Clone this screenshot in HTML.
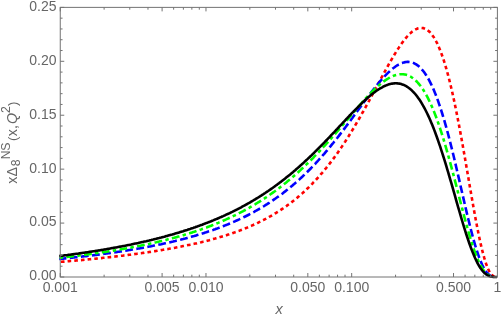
<!DOCTYPE html>
<html><head><meta charset="utf-8"><title>plot</title>
<style>html,body{margin:0;padding:0;background:#fff;overflow:hidden}body{width:501px;height:318px;position:relative;font-family:"Liberation Sans",sans-serif}</style></head>
<body>
<svg width="501" height="318" viewBox="0 0 501 318" style="display:block;position:absolute;left:0;top:0;will-change:transform">
<rect width="501" height="318" fill="#fff"/>
<g fill="none" stroke-width="2.6" stroke-linejoin="round">
<path d="M59.2 261.9 L61.2 261.8 L62.2 261.7 L63.2 261.6 L64.2 261.6 L65.2 261.5 L66.2 261.4 L67.2 261.3 L68.2 261.2 L69.2 261.1 L70.2 261.0 L71.2 261.0 L72.2 260.9 L73.2 260.8 L74.2 260.7 L75.2 260.6 L76.2 260.5 L77.2 260.4 L78.2 260.3 L79.2 260.2 L80.2 260.1 L81.2 260.1 L82.2 260.0 L83.2 259.9 L84.2 259.8 L85.2 259.7 L86.2 259.6 L87.2 259.5 L88.2 259.4 L89.2 259.3 L90.2 259.2 L91.2 259.1 L92.2 259.0 L93.2 258.9 L94.2 258.8 L95.2 258.7 L96.2 258.6 L97.2 258.5 L98.2 258.4 L99.2 258.3 L100.2 258.2 L101.2 258.1 L102.2 258.0 L103.2 257.8 L104.2 257.7 L105.2 257.6 L106.2 257.5 L107.2 257.4 L108.2 257.3 L109.2 257.2 L110.2 257.1 L111.2 257.0 L112.2 256.9 L113.2 256.7 L114.2 256.6 L115.2 256.5 L116.2 256.4 L117.2 256.3 L118.2 256.2 L119.2 256.0 L120.2 255.9 L121.2 255.8 L122.2 255.7 L123.2 255.6 L124.2 255.4 L125.2 255.3 L126.2 255.2 L127.2 255.1 L128.2 254.9 L129.2 254.8 L130.2 254.7 L131.2 254.5 L132.2 254.4 L133.2 254.3 L134.2 254.1 L135.2 254.0 L136.2 253.9 L137.2 253.7 L138.2 253.6 L139.2 253.5 L140.2 253.3 L141.2 253.2 L142.2 253.0 L143.2 252.9 L144.2 252.8 L145.2 252.6 L146.2 252.5 L147.2 252.3 L148.2 252.2 L149.2 252.0 L150.2 251.9 L151.2 251.7 L152.2 251.6 L153.2 251.4 L154.2 251.3 L155.2 251.1 L156.2 251.0 L157.2 250.8 L158.2 250.6 L159.2 250.5 L160.2 250.3 L161.2 250.1 L162.2 250.0 L163.2 249.8 L164.2 249.6 L165.2 249.5 L166.2 249.3 L167.2 249.1 L168.2 249.0 L169.2 248.8 L170.2 248.6 L171.2 248.4 L172.2 248.2 L173.2 248.1 L174.2 247.9 L175.2 247.7 L176.2 247.5 L177.2 247.3 L178.2 247.1 L179.2 246.9 L180.2 246.7 L181.2 246.5 L182.2 246.3 L183.2 246.1 L184.2 245.9 L185.2 245.7 L186.2 245.5 L187.2 245.3 L188.2 245.1 L189.2 244.9 L190.2 244.7 L191.2 244.5 L192.2 244.3 L193.2 244.0 L194.2 243.8 L195.2 243.6 L196.2 243.4 L197.2 243.1 L198.2 242.9 L199.2 242.7 L200.2 242.4 L201.2 242.2 L202.2 241.9 L203.2 241.7 L204.2 241.5 L205.2 241.2 L206.2 241.0 L207.2 240.7 L208.2 240.4 L209.2 240.2 L210.2 239.9 L211.2 239.6 L212.2 239.4 L213.2 239.1 L214.2 238.8 L215.2 238.6 L216.2 238.3 L217.2 238.0 L218.2 237.7 L219.2 237.4 L220.2 237.1 L221.2 236.8 L222.2 236.5 L223.2 236.2 L224.2 235.9 L225.2 235.6 L226.2 235.3 L227.2 234.9 L228.2 234.6 L229.2 234.3 L230.2 233.9 L231.2 233.6 L232.2 233.3 L233.2 232.9 L234.2 232.6 L235.2 232.2 L236.2 231.9 L237.2 231.5 L238.2 231.1 L239.2 230.8 L240.2 230.4 L241.2 230.0 L242.2 229.6 L243.2 229.2 L244.2 228.8 L245.2 228.4 L246.2 228.0 L247.2 227.6 L248.2 227.2 L249.2 226.7 L250.2 226.3 L251.2 225.9 L252.2 225.4 L253.2 225.0 L254.2 224.5 L255.2 224.1 L256.2 223.6 L257.2 223.1 L258.2 222.7 L259.2 222.2 L260.2 221.7 L261.2 221.2 L262.2 220.7 L263.2 220.2 L264.2 219.6 L265.2 219.1 L266.2 218.6 L267.2 218.0 L268.2 217.5 L269.2 216.9 L270.2 216.4 L271.2 215.8 L272.2 215.2 L273.2 214.6 L274.2 214.0 L275.2 213.4 L276.2 212.8 L277.2 212.2 L278.2 211.6 L279.2 210.9 L280.2 210.3 L281.2 209.6 L282.2 208.9 L283.2 208.3 L284.2 207.6 L285.2 206.9 L286.2 206.2 L287.2 205.4 L288.2 204.7 L289.2 204.0 L290.2 203.2 L291.2 202.5 L292.2 201.7 L293.2 200.9 L294.2 200.1 L295.2 199.3 L296.2 198.5 L297.2 197.7 L298.2 196.8 L299.2 196.0 L300.2 195.1 L301.2 194.2 L302.2 193.4 L303.2 192.5 L304.2 191.5 L305.2 190.6 L306.2 189.7 L307.2 188.7 L308.2 187.8 L309.2 186.8 L310.2 185.8 L311.2 184.8 L312.2 183.8 L313.2 182.7 L314.2 181.7 L315.2 180.6 L316.2 179.5 L317.2 178.5 L318.2 177.3 L319.2 176.2 L320.2 175.1 L321.2 173.9 L322.2 172.8 L323.2 171.6 L324.2 170.4 L325.2 169.2 L326.2 168.0 L327.2 166.7 L328.2 165.5 L329.2 164.2 L330.2 162.9 L331.2 161.6 L332.2 160.3 L333.2 158.9 L334.2 157.6 L335.2 156.2 L336.2 154.8 L337.2 153.4 L338.2 152.0 L339.2 150.5 L340.2 149.1 L341.2 147.6 L342.2 146.1 L343.2 144.6 L344.2 143.1 L345.2 141.6 L346.2 140.0 L347.2 138.5 L348.2 136.9 L349.2 135.3 L350.2 133.7 L351.2 132.1 L352.2 130.4 L353.2 128.8 L354.2 127.1 L355.2 125.4 L356.2 123.7 L357.2 122.0 L358.2 120.3 L359.2 118.5 L360.2 116.8 L361.2 115.0 L362.2 113.2 L363.2 111.5 L364.2 109.7 L365.2 107.9 L366.2 106.0 L367.2 104.2 L368.2 102.4 L369.2 100.6 L370.2 98.7 L371.2 96.9 L372.2 95.0 L373.2 93.1 L374.2 91.3 L375.2 89.4 L376.2 87.5 L377.2 85.7 L378.2 83.8 L379.2 81.9 L380.2 80.1 L381.2 78.2 L382.2 76.4 L383.2 74.5 L384.2 72.7 L385.2 70.8 L386.2 69.0 L387.2 67.2 L388.2 65.4 L389.2 63.6 L390.2 61.9 L391.2 60.1 L392.2 58.4 L393.2 56.7 L394.2 55.0 L395.2 53.4 L396.2 51.7 L397.2 50.1 L398.2 48.6 L399.2 47.1 L400.2 45.6 L401.2 44.1 L402.2 42.7 L403.2 41.4 L404.2 40.1 L405.2 38.8 L406.2 37.6 L407.2 36.5 L408.2 35.4 L409.2 34.3 L410.2 33.4 L411.2 32.5 L412.2 31.6 L413.2 30.9 L414.2 30.2 L415.2 29.6 L416.2 29.1 L417.2 28.7 L418.2 28.3 L419.2 28.1 L420.2 28.0 L421.2 27.9 L422.2 28.0 L423.2 28.1 L424.2 28.4 L425.2 28.8 L426.2 29.3 L427.2 29.9 L428.2 30.7 L429.2 31.5 L430.2 32.5 L431.2 33.7 L432.2 35.0 L433.2 36.4 L434.2 37.9 L435.2 39.6 L436.2 41.5 L437.2 43.4 L438.2 45.6 L439.2 47.9 L440.2 50.3 L441.2 52.9 L442.2 55.7 L443.2 58.6 L444.2 61.7 L445.2 64.9 L446.2 68.3 L447.2 71.9 L448.2 75.6 L449.2 79.5 L450.2 83.5 L451.2 87.7 L452.2 92.0 L453.2 96.5 L454.2 101.1 L455.2 105.9 L456.2 110.8 L457.2 115.8 L458.2 120.9 L459.2 126.2 L460.2 131.5 L461.2 137.0 L462.2 142.5 L463.2 148.1 L464.2 153.8 L465.2 159.5 L466.2 165.3 L467.2 171.1 L468.2 176.9 L469.2 182.8 L470.2 188.6 L471.2 194.3 L472.2 200.0 L473.2 205.7 L474.2 211.3 L475.2 216.7 L476.2 222.0 L477.2 227.2 L478.2 232.2 L479.2 237.1 L480.2 241.7 L481.2 246.1 L482.2 250.2 L483.2 254.1 L484.2 257.7 L485.2 261.0 L486.2 264.0 L487.2 266.7 L488.2 269.1 L489.2 271.1 L490.2 272.8 L491.2 274.2 L492.2 275.3 L493.2 276.0 L494.2 276.4 L494.9 276.4" stroke="#ff0000" stroke-dasharray="3.6 3.1" stroke-dashoffset="4.97"/>
<path d="M59.2 258.9 L61.2 258.8 L62.2 258.7 L63.2 258.6 L64.2 258.5 L65.2 258.4 L66.2 258.3 L67.2 258.2 L68.2 258.1 L69.2 258.0 L70.2 257.9 L71.2 257.8 L72.2 257.7 L73.2 257.5 L74.2 257.4 L75.2 257.3 L76.2 257.2 L77.2 257.1 L78.2 257.0 L79.2 256.9 L80.2 256.8 L81.2 256.7 L82.2 256.5 L83.2 256.4 L84.2 256.3 L85.2 256.2 L86.2 256.1 L87.2 256.0 L88.2 255.8 L89.2 255.7 L90.2 255.6 L91.2 255.5 L92.2 255.4 L93.2 255.2 L94.2 255.1 L95.2 255.0 L96.2 254.9 L97.2 254.7 L98.2 254.6 L99.2 254.5 L100.2 254.3 L101.2 254.2 L102.2 254.1 L103.2 253.9 L104.2 253.8 L105.2 253.7 L106.2 253.5 L107.2 253.4 L108.2 253.3 L109.2 253.1 L110.2 253.0 L111.2 252.8 L112.2 252.7 L113.2 252.6 L114.2 252.4 L115.2 252.3 L116.2 252.1 L117.2 252.0 L118.2 251.8 L119.2 251.7 L120.2 251.5 L121.2 251.4 L122.2 251.2 L123.2 251.1 L124.2 250.9 L125.2 250.7 L126.2 250.6 L127.2 250.4 L128.2 250.3 L129.2 250.1 L130.2 249.9 L131.2 249.8 L132.2 249.6 L133.2 249.4 L134.2 249.3 L135.2 249.1 L136.2 248.9 L137.2 248.8 L138.2 248.6 L139.2 248.4 L140.2 248.2 L141.2 248.1 L142.2 247.9 L143.2 247.7 L144.2 247.5 L145.2 247.3 L146.2 247.1 L147.2 247.0 L148.2 246.8 L149.2 246.6 L150.2 246.4 L151.2 246.2 L152.2 246.0 L153.2 245.8 L154.2 245.6 L155.2 245.4 L156.2 245.2 L157.2 245.0 L158.2 244.8 L159.2 244.6 L160.2 244.4 L161.2 244.2 L162.2 243.9 L163.2 243.7 L164.2 243.5 L165.2 243.3 L166.2 243.1 L167.2 242.8 L168.2 242.6 L169.2 242.4 L170.2 242.2 L171.2 241.9 L172.2 241.7 L173.2 241.5 L174.2 241.2 L175.2 241.0 L176.2 240.7 L177.2 240.5 L178.2 240.3 L179.2 240.0 L180.2 239.7 L181.2 239.5 L182.2 239.2 L183.2 239.0 L184.2 238.7 L185.2 238.5 L186.2 238.2 L187.2 237.9 L188.2 237.6 L189.2 237.4 L190.2 237.1 L191.2 236.8 L192.2 236.5 L193.2 236.2 L194.2 236.0 L195.2 235.7 L196.2 235.4 L197.2 235.1 L198.2 234.8 L199.2 234.5 L200.2 234.2 L201.2 233.9 L202.2 233.6 L203.2 233.2 L204.2 232.9 L205.2 232.6 L206.2 232.3 L207.2 231.9 L208.2 231.6 L209.2 231.3 L210.2 230.9 L211.2 230.6 L212.2 230.2 L213.2 229.9 L214.2 229.5 L215.2 229.2 L216.2 228.8 L217.2 228.5 L218.2 228.1 L219.2 227.7 L220.2 227.3 L221.2 227.0 L222.2 226.6 L223.2 226.2 L224.2 225.8 L225.2 225.4 L226.2 225.0 L227.2 224.6 L228.2 224.2 L229.2 223.8 L230.2 223.4 L231.2 222.9 L232.2 222.5 L233.2 222.1 L234.2 221.6 L235.2 221.2 L236.2 220.7 L237.2 220.3 L238.2 219.8 L239.2 219.4 L240.2 218.9 L241.2 218.4 L242.2 218.0 L243.2 217.5 L244.2 217.0 L245.2 216.5 L246.2 216.0 L247.2 215.5 L248.2 215.0 L249.2 214.5 L250.2 213.9 L251.2 213.4 L252.2 212.9 L253.2 212.3 L254.2 211.8 L255.2 211.2 L256.2 210.7 L257.2 210.1 L258.2 209.5 L259.2 209.0 L260.2 208.4 L261.2 207.8 L262.2 207.2 L263.2 206.6 L264.2 206.0 L265.2 205.3 L266.2 204.7 L267.2 204.1 L268.2 203.4 L269.2 202.8 L270.2 202.1 L271.2 201.5 L272.2 200.8 L273.2 200.1 L274.2 199.4 L275.2 198.7 L276.2 198.0 L277.2 197.3 L278.2 196.6 L279.2 195.9 L280.2 195.2 L281.2 194.4 L282.2 193.7 L283.2 192.9 L284.2 192.1 L285.2 191.4 L286.2 190.6 L287.2 189.8 L288.2 189.0 L289.2 188.2 L290.2 187.3 L291.2 186.5 L292.2 185.7 L293.2 184.8 L294.2 184.0 L295.2 183.1 L296.2 182.2 L297.2 181.4 L298.2 180.5 L299.2 179.6 L300.2 178.6 L301.2 177.7 L302.2 176.8 L303.2 175.8 L304.2 174.9 L305.2 173.9 L306.2 173.0 L307.2 172.0 L308.2 171.0 L309.2 170.0 L310.2 169.0 L311.2 168.0 L312.2 166.9 L313.2 165.9 L314.2 164.8 L315.2 163.8 L316.2 162.7 L317.2 161.6 L318.2 160.5 L319.2 159.4 L320.2 158.3 L321.2 157.2 L322.2 156.1 L323.2 154.9 L324.2 153.8 L325.2 152.6 L326.2 151.4 L327.2 150.3 L328.2 149.1 L329.2 147.9 L330.2 146.7 L331.2 145.4 L332.2 144.2 L333.2 143.0 L334.2 141.7 L335.2 140.5 L336.2 139.2 L337.2 138.0 L338.2 136.7 L339.2 135.4 L340.2 134.1 L341.2 132.8 L342.2 131.5 L343.2 130.2 L344.2 128.9 L345.2 127.6 L346.2 126.2 L347.2 124.9 L348.2 123.6 L349.2 122.2 L350.2 120.9 L351.2 119.5 L352.2 118.2 L353.2 116.8 L354.2 115.4 L355.2 114.1 L356.2 112.7 L357.2 111.3 L358.2 110.0 L359.2 108.6 L360.2 107.2 L361.2 105.9 L362.2 104.5 L363.2 103.1 L364.2 101.8 L365.2 100.4 L366.2 99.1 L367.2 97.7 L368.2 96.4 L369.2 95.1 L370.2 93.8 L371.2 92.4 L372.2 91.1 L373.2 89.9 L374.2 88.6 L375.2 87.3 L376.2 86.1 L377.2 84.8 L378.2 83.6 L379.2 82.4 L380.2 81.2 L381.2 80.1 L382.2 78.9 L383.2 77.8 L384.2 76.7 L385.2 75.7 L386.2 74.6 L387.2 73.6 L388.2 72.6 L389.2 71.7 L390.2 70.8 L391.2 69.9 L392.2 69.0 L393.2 68.2 L394.2 67.5 L395.2 66.7 L396.2 66.0 L397.2 65.4 L398.2 64.8 L399.2 64.3 L400.2 63.8 L401.2 63.3 L402.2 63.0 L403.2 62.6 L404.2 62.4 L405.2 62.1 L406.2 62.0 L407.2 61.9 L408.2 61.9 L409.2 62.0 L410.2 62.1 L411.2 62.3 L412.2 62.5 L413.2 62.9 L414.2 63.3 L415.2 63.8 L416.2 64.4 L417.2 65.1 L418.2 65.8 L419.2 66.7 L420.2 67.6 L421.2 68.6 L422.2 69.8 L423.2 71.0 L424.2 72.3 L425.2 73.7 L426.2 75.2 L427.2 76.8 L428.2 78.5 L429.2 80.3 L430.2 82.3 L431.2 84.3 L432.2 86.4 L433.2 88.6 L434.2 91.0 L435.2 93.4 L436.2 96.0 L437.2 98.6 L438.2 101.4 L439.2 104.3 L440.2 107.2 L441.2 110.3 L442.2 113.5 L443.2 116.8 L444.2 120.1 L445.2 123.6 L446.2 127.2 L447.2 130.8 L448.2 134.5 L449.2 138.3 L450.2 142.2 L451.2 146.2 L452.2 150.2 L453.2 154.3 L454.2 158.5 L455.2 162.7 L456.2 167.0 L457.2 171.3 L458.2 175.6 L459.2 179.9 L460.2 184.3 L461.2 188.7 L462.2 193.1 L463.2 197.4 L464.2 201.8 L465.2 206.1 L466.2 210.4 L467.2 214.6 L468.2 218.8 L469.2 222.8 L470.2 226.9 L471.2 230.8 L472.2 234.6 L473.2 238.3 L474.2 241.9 L475.2 245.3 L476.2 248.6 L477.2 251.7 L478.2 254.7 L479.2 257.5 L480.2 260.1 L481.2 262.5 L482.2 264.8 L483.2 266.8 L484.2 268.7 L485.2 270.3 L486.2 271.7 L487.2 273.0 L488.2 274.0 L489.2 274.9 L490.2 275.6 L491.2 276.1 L492.2 276.4 L492.9 276.4" stroke="#0000ff" stroke-dasharray="7.8 3.4" stroke-dashoffset="0.57"/>
<path d="M59.2 257.7 L61.2 257.6 L62.2 257.5 L63.2 257.3 L64.2 257.2 L65.2 257.1 L66.2 257.0 L67.2 256.9 L68.2 256.8 L69.2 256.7 L70.2 256.5 L71.2 256.4 L72.2 256.3 L73.2 256.2 L74.2 256.1 L75.2 256.0 L76.2 255.8 L77.2 255.7 L78.2 255.6 L79.2 255.5 L80.2 255.3 L81.2 255.2 L82.2 255.1 L83.2 255.0 L84.2 254.8 L85.2 254.7 L86.2 254.6 L87.2 254.4 L88.2 254.3 L89.2 254.2 L90.2 254.0 L91.2 253.9 L92.2 253.8 L93.2 253.6 L94.2 253.5 L95.2 253.3 L96.2 253.2 L97.2 253.1 L98.2 252.9 L99.2 252.8 L100.2 252.6 L101.2 252.5 L102.2 252.3 L103.2 252.2 L104.2 252.0 L105.2 251.9 L106.2 251.7 L107.2 251.6 L108.2 251.4 L109.2 251.3 L110.2 251.1 L111.2 251.0 L112.2 250.8 L113.2 250.6 L114.2 250.5 L115.2 250.3 L116.2 250.1 L117.2 250.0 L118.2 249.8 L119.2 249.6 L120.2 249.5 L121.2 249.3 L122.2 249.1 L123.2 248.9 L124.2 248.8 L125.2 248.6 L126.2 248.4 L127.2 248.2 L128.2 248.1 L129.2 247.9 L130.2 247.7 L131.2 247.5 L132.2 247.3 L133.2 247.1 L134.2 246.9 L135.2 246.7 L136.2 246.5 L137.2 246.3 L138.2 246.1 L139.2 245.9 L140.2 245.7 L141.2 245.5 L142.2 245.3 L143.2 245.1 L144.2 244.9 L145.2 244.7 L146.2 244.5 L147.2 244.3 L148.2 244.1 L149.2 243.9 L150.2 243.6 L151.2 243.4 L152.2 243.2 L153.2 243.0 L154.2 242.7 L155.2 242.5 L156.2 242.3 L157.2 242.0 L158.2 241.8 L159.2 241.6 L160.2 241.3 L161.2 241.1 L162.2 240.9 L163.2 240.6 L164.2 240.4 L165.2 240.1 L166.2 239.9 L167.2 239.6 L168.2 239.3 L169.2 239.1 L170.2 238.8 L171.2 238.6 L172.2 238.3 L173.2 238.0 L174.2 237.8 L175.2 237.5 L176.2 237.2 L177.2 236.9 L178.2 236.6 L179.2 236.4 L180.2 236.1 L181.2 235.8 L182.2 235.5 L183.2 235.2 L184.2 234.9 L185.2 234.6 L186.2 234.3 L187.2 234.0 L188.2 233.7 L189.2 233.4 L190.2 233.0 L191.2 232.7 L192.2 232.4 L193.2 232.1 L194.2 231.8 L195.2 231.4 L196.2 231.1 L197.2 230.7 L198.2 230.4 L199.2 230.1 L200.2 229.7 L201.2 229.4 L202.2 229.0 L203.2 228.7 L204.2 228.3 L205.2 227.9 L206.2 227.6 L207.2 227.2 L208.2 226.8 L209.2 226.4 L210.2 226.1 L211.2 225.7 L212.2 225.3 L213.2 224.9 L214.2 224.5 L215.2 224.1 L216.2 223.7 L217.2 223.3 L218.2 222.9 L219.2 222.4 L220.2 222.0 L221.2 221.6 L222.2 221.2 L223.2 220.7 L224.2 220.3 L225.2 219.8 L226.2 219.4 L227.2 218.9 L228.2 218.5 L229.2 218.0 L230.2 217.6 L231.2 217.1 L232.2 216.6 L233.2 216.1 L234.2 215.6 L235.2 215.2 L236.2 214.7 L237.2 214.2 L238.2 213.7 L239.2 213.1 L240.2 212.6 L241.2 212.1 L242.2 211.6 L243.2 211.1 L244.2 210.5 L245.2 210.0 L246.2 209.4 L247.2 208.9 L248.2 208.3 L249.2 207.8 L250.2 207.2 L251.2 206.6 L252.2 206.0 L253.2 205.4 L254.2 204.9 L255.2 204.3 L256.2 203.6 L257.2 203.0 L258.2 202.4 L259.2 201.8 L260.2 201.2 L261.2 200.5 L262.2 199.9 L263.2 199.2 L264.2 198.6 L265.2 197.9 L266.2 197.3 L267.2 196.6 L268.2 195.9 L269.2 195.2 L270.2 194.5 L271.2 193.8 L272.2 193.1 L273.2 192.4 L274.2 191.7 L275.2 191.0 L276.2 190.2 L277.2 189.5 L278.2 188.7 L279.2 188.0 L280.2 187.2 L281.2 186.4 L282.2 185.7 L283.2 184.9 L284.2 184.1 L285.2 183.3 L286.2 182.5 L287.2 181.6 L288.2 180.8 L289.2 180.0 L290.2 179.2 L291.2 178.3 L292.2 177.5 L293.2 176.6 L294.2 175.7 L295.2 174.9 L296.2 174.0 L297.2 173.1 L298.2 172.2 L299.2 171.3 L300.2 170.4 L301.2 169.4 L302.2 168.5 L303.2 167.6 L304.2 166.6 L305.2 165.7 L306.2 164.7 L307.2 163.7 L308.2 162.8 L309.2 161.8 L310.2 160.8 L311.2 159.8 L312.2 158.8 L313.2 157.8 L314.2 156.7 L315.2 155.7 L316.2 154.7 L317.2 153.6 L318.2 152.6 L319.2 151.5 L320.2 150.5 L321.2 149.4 L322.2 148.3 L323.2 147.2 L324.2 146.2 L325.2 145.1 L326.2 144.0 L327.2 142.9 L328.2 141.7 L329.2 140.6 L330.2 139.5 L331.2 138.4 L332.2 137.2 L333.2 136.1 L334.2 135.0 L335.2 133.8 L336.2 132.7 L337.2 131.5 L338.2 130.3 L339.2 129.2 L340.2 128.0 L341.2 126.8 L342.2 125.7 L343.2 124.5 L344.2 123.3 L345.2 122.1 L346.2 121.0 L347.2 119.8 L348.2 118.6 L349.2 117.4 L350.2 116.3 L351.2 115.1 L352.2 113.9 L353.2 112.7 L354.2 111.6 L355.2 110.4 L356.2 109.2 L357.2 108.1 L358.2 106.9 L359.2 105.8 L360.2 104.6 L361.2 103.5 L362.2 102.4 L363.2 101.2 L364.2 100.1 L365.2 99.0 L366.2 97.9 L367.2 96.9 L368.2 95.8 L369.2 94.7 L370.2 93.7 L371.2 92.7 L372.2 91.7 L373.2 90.7 L374.2 89.7 L375.2 88.7 L376.2 87.8 L377.2 86.9 L378.2 86.0 L379.2 85.1 L380.2 84.3 L381.2 83.4 L382.2 82.6 L383.2 81.9 L384.2 81.1 L385.2 80.4 L386.2 79.7 L387.2 79.1 L388.2 78.5 L389.2 77.9 L390.2 77.3 L391.2 76.8 L392.2 76.4 L393.2 75.9 L394.2 75.6 L395.2 75.2 L396.2 74.9 L397.2 74.7 L398.2 74.5 L399.2 74.3 L400.2 74.2 L401.2 74.2 L402.2 74.2 L403.2 74.3 L404.2 74.4 L405.2 74.6 L406.2 74.8 L407.2 75.1 L408.2 75.5 L409.2 75.9 L410.2 76.4 L411.2 77.0 L412.2 77.7 L413.2 78.4 L414.2 79.2 L415.2 80.0 L416.2 81.0 L417.2 82.0 L418.2 83.1 L419.2 84.3 L420.2 85.5 L421.2 86.9 L422.2 88.3 L423.2 89.8 L424.2 91.4 L425.2 93.1 L426.2 94.8 L427.2 96.7 L428.2 98.6 L429.2 100.7 L430.2 102.8 L431.2 105.0 L432.2 107.3 L433.2 109.7 L434.2 112.1 L435.2 114.7 L436.2 117.3 L437.2 120.1 L438.2 122.9 L439.2 125.8 L440.2 128.8 L441.2 131.9 L442.2 135.0 L443.2 138.2 L444.2 141.5 L445.2 144.9 L446.2 148.3 L447.2 151.8 L448.2 155.3 L449.2 159.0 L450.2 162.6 L451.2 166.3 L452.2 170.1 L453.2 173.9 L454.2 177.7 L455.2 181.6 L456.2 185.4 L457.2 189.3 L458.2 193.2 L459.2 197.1 L460.2 201.0 L461.2 204.9 L462.2 208.7 L463.2 212.5 L464.2 216.3 L465.2 220.0 L466.2 223.7 L467.2 227.3 L468.2 230.9 L469.2 234.3 L470.2 237.7 L471.2 241.0 L472.2 244.1 L473.2 247.2 L474.2 250.1 L475.2 252.9 L476.2 255.5 L477.2 258.1 L478.2 260.4 L479.2 262.6 L480.2 264.6 L481.2 266.5 L482.2 268.2 L483.2 269.8 L484.2 271.1 L485.2 272.3 L486.2 273.4 L487.2 274.3 L488.2 275.0 L489.2 275.6 L490.2 276.1 L491.2 276.4 L492.2 276.4 L492.4 276.4" stroke="#00ff00" stroke-dasharray="7.8 3.3 3.5 3.3" stroke-dashoffset="10.72"/>
<path d="M59.2 256.0 L61.2 255.8 L62.2 255.7 L63.2 255.6 L64.2 255.4 L65.2 255.3 L66.2 255.2 L67.2 255.1 L68.2 254.9 L69.2 254.8 L70.2 254.7 L71.2 254.5 L72.2 254.4 L73.2 254.3 L74.2 254.1 L75.2 254.0 L76.2 253.8 L77.2 253.7 L78.2 253.6 L79.2 253.4 L80.2 253.3 L81.2 253.1 L82.2 253.0 L83.2 252.8 L84.2 252.7 L85.2 252.5 L86.2 252.4 L87.2 252.2 L88.2 252.1 L89.2 251.9 L90.2 251.8 L91.2 251.6 L92.2 251.5 L93.2 251.3 L94.2 251.2 L95.2 251.0 L96.2 250.8 L97.2 250.7 L98.2 250.5 L99.2 250.4 L100.2 250.2 L101.2 250.0 L102.2 249.9 L103.2 249.7 L104.2 249.5 L105.2 249.4 L106.2 249.2 L107.2 249.0 L108.2 248.8 L109.2 248.7 L110.2 248.5 L111.2 248.3 L112.2 248.1 L113.2 247.9 L114.2 247.8 L115.2 247.6 L116.2 247.4 L117.2 247.2 L118.2 247.0 L119.2 246.8 L120.2 246.6 L121.2 246.5 L122.2 246.3 L123.2 246.1 L124.2 245.9 L125.2 245.7 L126.2 245.5 L127.2 245.3 L128.2 245.1 L129.2 244.9 L130.2 244.7 L131.2 244.5 L132.2 244.2 L133.2 244.0 L134.2 243.8 L135.2 243.6 L136.2 243.4 L137.2 243.2 L138.2 243.0 L139.2 242.7 L140.2 242.5 L141.2 242.3 L142.2 242.1 L143.2 241.9 L144.2 241.6 L145.2 241.4 L146.2 241.2 L147.2 240.9 L148.2 240.7 L149.2 240.5 L150.2 240.2 L151.2 240.0 L152.2 239.7 L153.2 239.5 L154.2 239.2 L155.2 239.0 L156.2 238.8 L157.2 238.5 L158.2 238.2 L159.2 238.0 L160.2 237.7 L161.2 237.5 L162.2 237.2 L163.2 236.9 L164.2 236.7 L165.2 236.4 L166.2 236.1 L167.2 235.9 L168.2 235.6 L169.2 235.3 L170.2 235.0 L171.2 234.7 L172.2 234.5 L173.2 234.2 L174.2 233.9 L175.2 233.6 L176.2 233.3 L177.2 233.0 L178.2 232.7 L179.2 232.4 L180.2 232.1 L181.2 231.8 L182.2 231.5 L183.2 231.2 L184.2 230.8 L185.2 230.5 L186.2 230.2 L187.2 229.9 L188.2 229.5 L189.2 229.2 L190.2 228.9 L191.2 228.5 L192.2 228.2 L193.2 227.9 L194.2 227.5 L195.2 227.2 L196.2 226.8 L197.2 226.5 L198.2 226.1 L199.2 225.8 L200.2 225.4 L201.2 225.0 L202.2 224.7 L203.2 224.3 L204.2 223.9 L205.2 223.5 L206.2 223.1 L207.2 222.8 L208.2 222.4 L209.2 222.0 L210.2 221.6 L211.2 221.2 L212.2 220.8 L213.2 220.4 L214.2 219.9 L215.2 219.5 L216.2 219.1 L217.2 218.7 L218.2 218.3 L219.2 217.8 L220.2 217.4 L221.2 217.0 L222.2 216.5 L223.2 216.1 L224.2 215.6 L225.2 215.2 L226.2 214.7 L227.2 214.2 L228.2 213.8 L229.2 213.3 L230.2 212.8 L231.2 212.3 L232.2 211.9 L233.2 211.4 L234.2 210.9 L235.2 210.4 L236.2 209.9 L237.2 209.4 L238.2 208.8 L239.2 208.3 L240.2 207.8 L241.2 207.3 L242.2 206.7 L243.2 206.2 L244.2 205.7 L245.2 205.1 L246.2 204.5 L247.2 204.0 L248.2 203.4 L249.2 202.9 L250.2 202.3 L251.2 201.7 L252.2 201.1 L253.2 200.5 L254.2 199.9 L255.2 199.3 L256.2 198.7 L257.2 198.1 L258.2 197.5 L259.2 196.9 L260.2 196.2 L261.2 195.6 L262.2 194.9 L263.2 194.3 L264.2 193.6 L265.2 193.0 L266.2 192.3 L267.2 191.6 L268.2 191.0 L269.2 190.3 L270.2 189.6 L271.2 188.9 L272.2 188.2 L273.2 187.5 L274.2 186.8 L275.2 186.0 L276.2 185.3 L277.2 184.6 L278.2 183.8 L279.2 183.1 L280.2 182.3 L281.2 181.6 L282.2 180.8 L283.2 180.0 L284.2 179.2 L285.2 178.4 L286.2 177.6 L287.2 176.8 L288.2 176.0 L289.2 175.2 L290.2 174.4 L291.2 173.6 L292.2 172.7 L293.2 171.9 L294.2 171.0 L295.2 170.2 L296.2 169.3 L297.2 168.4 L298.2 167.6 L299.2 166.7 L300.2 165.8 L301.2 164.9 L302.2 164.0 L303.2 163.1 L304.2 162.2 L305.2 161.2 L306.2 160.3 L307.2 159.4 L308.2 158.4 L309.2 157.5 L310.2 156.5 L311.2 155.6 L312.2 154.6 L313.2 153.6 L314.2 152.7 L315.2 151.7 L316.2 150.7 L317.2 149.7 L318.2 148.7 L319.2 147.7 L320.2 146.7 L321.2 145.6 L322.2 144.6 L323.2 143.6 L324.2 142.6 L325.2 141.5 L326.2 140.5 L327.2 139.5 L328.2 138.4 L329.2 137.4 L330.2 136.3 L331.2 135.2 L332.2 134.2 L333.2 133.1 L334.2 132.1 L335.2 131.0 L336.2 129.9 L337.2 128.9 L338.2 127.8 L339.2 126.7 L340.2 125.6 L341.2 124.6 L342.2 123.5 L343.2 122.4 L344.2 121.4 L345.2 120.3 L346.2 119.2 L347.2 118.2 L348.2 117.1 L349.2 116.0 L350.2 115.0 L351.2 113.9 L352.2 112.9 L353.2 111.9 L354.2 110.8 L355.2 109.8 L356.2 108.8 L357.2 107.8 L358.2 106.8 L359.2 105.8 L360.2 104.8 L361.2 103.8 L362.2 102.8 L363.2 101.9 L364.2 101.0 L365.2 100.0 L366.2 99.1 L367.2 98.2 L368.2 97.3 L369.2 96.5 L370.2 95.6 L371.2 94.8 L372.2 94.0 L373.2 93.2 L374.2 92.5 L375.2 91.7 L376.2 91.0 L377.2 90.3 L378.2 89.6 L379.2 89.0 L380.2 88.4 L381.2 87.8 L382.2 87.3 L383.2 86.7 L384.2 86.2 L385.2 85.8 L386.2 85.4 L387.2 85.0 L388.2 84.6 L389.2 84.3 L390.2 84.0 L391.2 83.8 L392.2 83.6 L393.2 83.5 L394.2 83.4 L395.2 83.3 L396.2 83.3 L397.2 83.4 L398.2 83.5 L399.2 83.6 L400.2 83.8 L401.2 84.1 L402.2 84.4 L403.2 84.7 L404.2 85.2 L405.2 85.7 L406.2 86.2 L407.2 86.8 L408.2 87.5 L409.2 88.2 L410.2 89.0 L411.2 89.9 L412.2 90.8 L413.2 91.8 L414.2 92.9 L415.2 94.0 L416.2 95.2 L417.2 96.5 L418.2 97.9 L419.2 99.3 L420.2 100.8 L421.2 102.4 L422.2 104.1 L423.2 105.8 L424.2 107.6 L425.2 109.5 L426.2 111.5 L427.2 113.5 L428.2 115.6 L429.2 117.8 L430.2 120.1 L431.2 122.4 L432.2 124.8 L433.2 127.3 L434.2 129.9 L435.2 132.5 L436.2 135.2 L437.2 138.0 L438.2 140.9 L439.2 143.8 L440.2 146.7 L441.2 149.8 L442.2 152.9 L443.2 156.0 L444.2 159.2 L445.2 162.4 L446.2 165.7 L447.2 169.1 L448.2 172.4 L449.2 175.8 L450.2 179.3 L451.2 182.7 L452.2 186.2 L453.2 189.7 L454.2 193.2 L455.2 196.7 L456.2 200.3 L457.2 203.8 L458.2 207.3 L459.2 210.7 L460.2 214.2 L461.2 217.6 L462.2 221.0 L463.2 224.3 L464.2 227.6 L465.2 230.8 L466.2 234.0 L467.2 237.0 L468.2 240.0 L469.2 243.0 L470.2 245.8 L471.2 248.5 L472.2 251.1 L473.2 253.6 L474.2 256.0 L475.2 258.3 L476.2 260.4 L477.2 262.5 L478.2 264.3 L479.2 266.1 L480.2 267.7 L481.2 269.1 L482.2 270.5 L483.2 271.6 L484.2 272.7 L485.2 273.6 L486.2 274.4 L487.2 275.0 L488.2 275.6 L489.2 276.0 L490.2 276.4 L491.2 276.6 L492.2 276.8 L493.2 276.9 L494.2 277.0 L495.2 277.0 L496.2 277.0 L497.1 277.0" stroke="#000"/>
</g>
<g stroke="#737373" stroke-width="1" fill="none">
<rect x="60.25" y="7.38" width="437.15" height="269.62"/>
<path d="M60.25 277.00h4 M497.4 277.00h-4 M60.25 266.22h2.3 M497.4 266.22h-2.3 M60.25 255.43h2.3 M497.4 255.43h-2.3 M60.25 244.65h2.3 M497.4 244.65h-2.3 M60.25 233.86h2.3 M497.4 233.86h-2.3 M60.25 223.08h4 M497.4 223.08h-4 M60.25 212.29h2.3 M497.4 212.29h-2.3 M60.25 201.51h2.3 M497.4 201.51h-2.3 M60.25 190.72h2.3 M497.4 190.72h-2.3 M60.25 179.94h2.3 M497.4 179.94h-2.3 M60.25 169.15h4 M497.4 169.15h-4 M60.25 158.37h2.3 M497.4 158.37h-2.3 M60.25 147.58h2.3 M497.4 147.58h-2.3 M60.25 136.80h2.3 M497.4 136.80h-2.3 M60.25 126.01h2.3 M497.4 126.01h-2.3 M60.25 115.23h4 M497.4 115.23h-4 M60.25 104.44h2.3 M497.4 104.44h-2.3 M60.25 93.66h2.3 M497.4 93.66h-2.3 M60.25 82.87h2.3 M497.4 82.87h-2.3 M60.25 72.09h2.3 M497.4 72.09h-2.3 M60.25 61.30h4 M497.4 61.30h-4 M60.25 50.52h2.3 M497.4 50.52h-2.3 M60.25 39.73h2.3 M497.4 39.73h-2.3 M60.25 28.95h2.3 M497.4 28.95h-2.3 M60.25 18.16h2.3 M497.4 18.16h-2.3 M60.25 7.38h4 M497.4 7.38h-4 M60.25 277.0v-4 M60.25 7.38v4 M104.12 277.0v-2.3 M104.12 7.38v2.3 M129.77 277.0v-2.3 M129.77 7.38v2.3 M147.98 277.0v-2.3 M147.98 7.38v2.3 M162.10 277.0v-4 M162.10 7.38v4 M173.64 277.0v-2.3 M173.64 7.38v2.3 M183.39 277.0v-2.3 M183.39 7.38v2.3 M191.85 277.0v-2.3 M191.85 7.38v2.3 M199.30 277.0v-2.3 M199.30 7.38v2.3 M205.97 277.0v-4 M205.97 7.38v4 M249.83 277.0v-2.3 M249.83 7.38v2.3 M275.49 277.0v-2.3 M275.49 7.38v2.3 M293.70 277.0v-2.3 M293.70 7.38v2.3 M307.82 277.0v-4 M307.82 7.38v4 M319.36 277.0v-2.3 M319.36 7.38v2.3 M329.11 277.0v-2.3 M329.11 7.38v2.3 M337.56 277.0v-2.3 M337.56 7.38v2.3 M345.02 277.0v-2.3 M345.02 7.38v2.3 M351.68 277.0v-4 M351.68 7.38v4 M395.55 277.0v-2.3 M395.55 7.38v2.3 M421.21 277.0v-2.3 M421.21 7.38v2.3 M439.41 277.0v-2.3 M439.41 7.38v2.3 M453.53 277.0v-4 M453.53 7.38v4 M465.07 277.0v-2.3 M465.07 7.38v2.3 M474.83 277.0v-2.3 M474.83 7.38v2.3 M483.28 277.0v-2.3 M483.28 7.38v2.3 M490.73 277.0v-2.3 M490.73 7.38v2.3"/>
</g>
<g font-family="Liberation Sans, sans-serif" font-size="14" fill="#666">
<text x="56.5" y="280.3" text-anchor="end">0.00</text>
<text x="56.5" y="226.4" text-anchor="end">0.05</text>
<text x="56.5" y="172.5" text-anchor="end">0.10</text>
<text x="56.5" y="118.5" text-anchor="end">0.15</text>
<text x="56.5" y="64.6" text-anchor="end">0.20</text>
<text x="56.5" y="10.7" text-anchor="end">0.25</text>
<text x="60.2" y="292.2" text-anchor="middle">0.001</text>
<text x="162.1" y="292.2" text-anchor="middle">0.005</text>
<text x="206.0" y="292.2" text-anchor="middle">0.010</text>
<text x="307.8" y="292.2" text-anchor="middle">0.050</text>
<text x="351.7" y="292.2" text-anchor="middle">0.100</text>
<text x="453.5" y="292.2" text-anchor="middle">0.500</text>
<text x="497.4" y="292.2" text-anchor="middle">1</text>
</g>
<g font-family="Liberation Sans, sans-serif" font-size="14.5" fill="#666">
<text x="279" y="313.5" text-anchor="middle" font-style="italic">x</text>
<text transform="translate(17.2 183.1) rotate(-90)" text-anchor="middle" font-size="14.3"><tspan x="3.0" y="0">x</tspan><tspan x="11.4" y="0">&#916;</tspan><tspan x="20.2" y="2.8" font-size="12.3">8</tspan><tspan x="28.35" y="-7" font-size="12.3">N</tspan><tspan x="36.5" y="-7" font-size="12.3">S</tspan><tspan x="44.3" y="-0.4" font-size="13.4">(</tspan><tspan x="50.55" y="0">x</tspan><tspan x="56.0" y="0">,</tspan><tspan x="64.7" y="0" font-style="italic">Q</tspan><tspan x="73.45" y="-7" font-size="12.3">2</tspan><tspan x="79.4" y="-0.4" font-size="13.4">)</tspan></text>
</g>
</svg>
</body></html>
